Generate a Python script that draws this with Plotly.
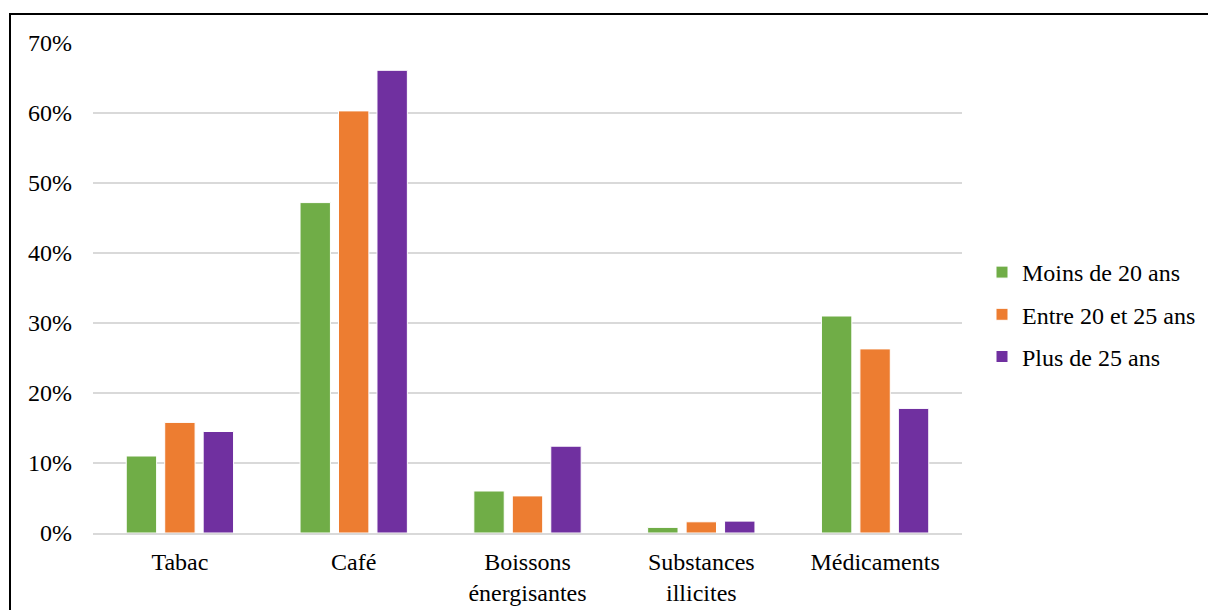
import plotly.graph_objects as go

categories = ["Tabac", "Café", "Boissons<br>énergisantes", "Substances<br>illicites", "Médicaments"]
series_names = ["Moins de 20 ans", "Entre 20 et 25 ans", "Plus de 25 ans"]
moins_20 = [11.0, 47.2, 6.0, 0.8, 31.0]
entre_20_25 = [15.8, 60.3, 5.3, 1.6, 26.3]
plus_25 = [14.5, 66.1, 12.4, 1.7, 17.8]
colors = ["#70AD47", "#ED7D31", "#7030A0"]
y_ticks = [0, 10, 20, 30, 40, 50, 60, 70]
y_ticklabels = [f"{t}%" for t in y_ticks]

W, H = 1208, 610
L, R, T, B = 93, 962, 43, 533
FS = 24

fig = go.Figure()
for name, vals, col in zip(series_names, [moins_20, entre_20_25, plus_25], colors):
    fig.add_trace(go.Bar(
        x=categories, y=vals, name=name, legendgroup=name,
        marker=dict(color=col, line=dict(color="white", width=1)),
    ))

px2x = lambda p: (p - L) / (R - L)
px2y = lambda p: (B - p) / (B - T)

fig.add_shape(type="rect", xref="paper", yref="paper",
              x0=px2x(10), x1=px2x(1240), y0=px2y(650), y1=px2y(14),
              line=dict(color="black", width=2), fillcolor="rgba(0,0,0,0)", layer="below")

fig.update_layout(
    width=W, height=H,
    margin=dict(l=L, r=W - R, t=T, b=H - B, pad=0, autoexpand=False),
    paper_bgcolor="white", plot_bgcolor="white",
    font=dict(family="Liberation Serif", size=FS, color="black"),
    barmode="group", bargap=0.336, bargroupgap=0.21,
    showlegend=True,
    legend=dict(x=px2x(982), y=px2y(250), xanchor="left", yanchor="top",
                traceorder="grouped", tracegroupgap=8,
                font=dict(family="Liberation Serif", size=FS, color="black"),
                itemwidth=30, bgcolor="rgba(0,0,0,0)"),
)
fig.update_yaxes(range=[0, 70], tickvals=y_ticks, ticktext=y_ticklabels,
                 showgrid=True, gridcolor="#d9d9d9", gridwidth=2, automargin=False,
                 zeroline=False, showline=False, ticks="", ticklabelstandoff=20,
                 tickfont=dict(family="Liberation Serif", size=FS))
fig.update_xaxes(showgrid=False, showline=True, linecolor="#d9d9d9", linewidth=2,
                 ticks="", ticklabelstandoff=6, automargin=False,
                 tickfont=dict(family="Liberation Serif", size=FS))

fig.write_html("out.html", config={"displayModeBar": False},
               post_script="document.body.style.margin='0';document.body.style.overflow='hidden';")
